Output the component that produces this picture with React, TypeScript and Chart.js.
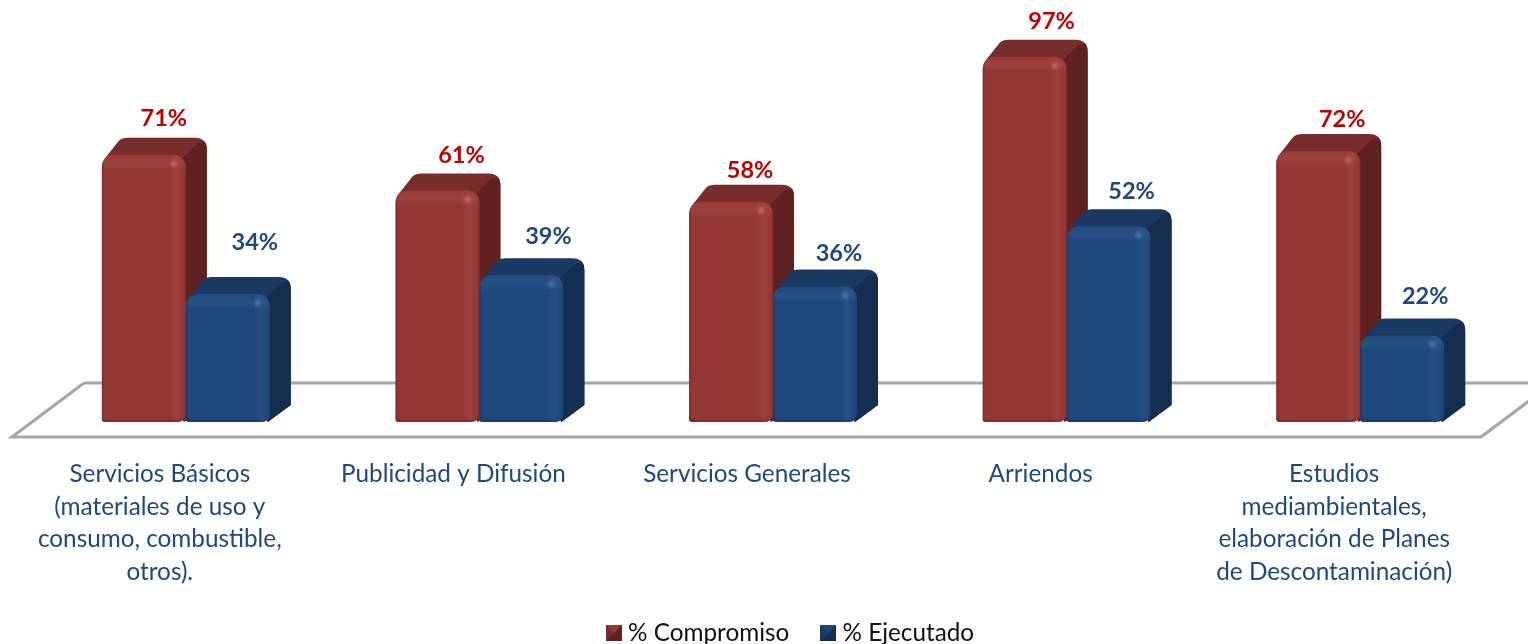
import React, { useEffect, useRef } from "react";
import { Chart, registerables } from "chart.js";

Chart.register(...registerables);

const categories = [
  ["Servicios Básicos", "(materiales de uso y", "consumo, combustible,", "otros)."],
  ["Publicidad y Difusión"],
  ["Servicios Generales"],
  ["Arriendos"],
  ["Estudios", "mediambientales,", "elaboración de Planes", "de Descontaminación)"],
];
const compromiso = [71, 61.5, 58.5, 97, 72];
const ejecutado = [34, 39, 36, 52, 23];
const compromisoLabels = ["71%", "61%", "58%", "97%", "72%"];
const ejecutadoLabels = ["34%", "39%", "36%", "52%", "22%"];
// hand-placed data label offsets (from the bar's centre / its rear top edge)
const labelDx = [[20, 24, 19, 27, 24], [27, 27, 24, 23, 23]];
const labelDy = [[19, 18, 14, 18, 15], [35, 22, 16, 18, 22]];

const DX = 21;
const DY = 17;
const FONT = "Lato, Carlito, sans-serif";
const palette = [
  { front: "#953735", top: "#772D2B", side: "#5F2220", light: "rgba(255,190,180,", edge: "rgba(90,20,20," },
  { front: "#1F497D", top: "#1A3A64", side: "#142E50", light: "rgba(140,190,240,", edge: "rgba(8,30,70," },
];

function makeSwatch(i: number) {
  const c = document.createElement("canvas");
  c.width = 16;
  c.height = 16;
  const g = c.getContext("2d")!;
  const p = palette[i];
  const tri = (pts: number[][], col: string) => {
    g.fillStyle = col;
    g.beginPath();
    pts.forEach(([x, y], k) => (k ? g.lineTo(x, y) : g.moveTo(x, y)));
    g.closePath();
    g.fill();
  };
  g.fillStyle = p.front;
  g.fillRect(0, 0, 16, 16);
  tri([[0, 0], [16, 0], [8, 8]], p.front);
  tri([[16, 0], [16, 16], [8, 8]], p.side);
  tri([[0, 0], [0, 16], [8, 8]], p.top);
  tri([[0, 16], [16, 16], [8, 8]], p.side);
  return c;
}

function silhouette(ctx: CanvasRenderingContext2D, L: number, R: number, T: number, B: number) {
  const r = 12;
  ctx.beginPath();
  ctx.moveTo(L + 2, T + 5);
  ctx.lineTo(L + DX - 4, T - DY + 3);
  ctx.quadraticCurveTo(L + DX - 1, T - DY, L + DX + 5, T - DY);
  ctx.lineTo(R + DX - r, T - DY);
  ctx.quadraticCurveTo(R + DX, T - DY, R + DX, T - DY + r);
  ctx.lineTo(R + DX, B - DY);
  ctx.lineTo(R - 2, B);
  ctx.closePath();
}

function drawDepth(ctx: CanvasRenderingContext2D, el: any, d: number) {
  const p = palette[d];
  const L = el.x - el.width / 2;
  const R = el.x + el.width / 2;
  const T = el.y;
  const B = el.base;
  ctx.save();
  silhouette(ctx, L, R, T, B);
  ctx.fillStyle = p.top;
  ctx.fill();
  ctx.clip();
  ctx.fillStyle = p.side;
  ctx.beginPath();
  ctx.moveTo(R - 6, T + 6);
  ctx.lineTo(R + DX - 10, T - DY + 6);
  ctx.lineTo(R + DX + 4, T - DY + 2);
  ctx.lineTo(R + DX + 4, B);
  ctx.lineTo(R - 6, B);
  ctx.closePath();
  ctx.fill();
  ctx.restore();
}

function drawSheen(ctx: CanvasRenderingContext2D, el: any, d: number) {
  const p = palette[d];
  const L = el.x - el.width / 2;
  const R = el.x + el.width / 2;
  const T = el.y;
  const B = el.base;
  const H = B - T;
  const W = R - L;
  ctx.save();
  ctx.beginPath();
  ctx.roundRect(L, T, W, H, [12, 12, 8, 3]);
  ctx.clip();
  let g = ctx.createLinearGradient(L, 0, R, 0);
  g.addColorStop(0, p.edge + "0.35)");
  g.addColorStop(3 / W, p.edge + "0)");
  g.addColorStop(0.8, p.light + "0)");
  g.addColorStop(0.89, p.light + "0.07)");
  g.addColorStop(0.97, p.light + "0)");
  g.addColorStop(0.975, p.edge + "0)");
  g.addColorStop(1, p.edge + "0.25)");
  ctx.fillStyle = g;
  ctx.fillRect(L, T, W, H);
  g = ctx.createLinearGradient(0, T, 0, B);
  g.addColorStop(0, p.light + "0.02)");
  g.addColorStop(9 / H, p.light + "0.07)");
  g.addColorStop(15 / H, p.light + "0)");
  g.addColorStop(1 - 5 / H, p.edge + "0)");
  g.addColorStop(1, p.edge + "0.35)");
  ctx.fillStyle = g;
  ctx.fillRect(L, T, W, H);
  g = ctx.createRadialGradient(R - 12, T + 9, 0, R - 12, T + 9, 5);
  g.addColorStop(0, p.light + "0.3)");
  g.addColorStop(1, p.light + "0)");
  ctx.fillStyle = g;
  ctx.fillRect(R - 20, T, 16, 18);
  ctx.restore();
}

const depthPlugin = {
  id: "depth",
  beforeDatasetDraw() {
    // datasets are painted below, left series first, so the right bar overlaps its neighbour's side
    return false;
  },
  beforeDatasetsDraw(chart: any) {
    const { ctx, scales } = chart;
    const y0 = scales.y.getPixelForValue(0);
    const back = y0 - 39;
    const front = y0 + 15;
    const xl = scales.x.left;
    const xr = scales.x.right;
    ctx.save();
    ctx.strokeStyle = "#A6A6A6";
    ctx.lineWidth = 3;
    ctx.beginPath();
    ctx.moveTo(xl + 45, back);
    ctx.lineTo(xr + 25, back);
    ctx.moveTo(xl + 45, back);
    ctx.lineTo(xl - 27, front);
    ctx.lineTo(xr - 26, front);
    ctx.lineTo(xr + 46, back);
    ctx.stroke();
    ctx.restore();
  },
  afterDatasetsDraw(chart: any) {
    const { ctx } = chart;
    [0, 1].forEach((d) => {
      const meta = chart.getDatasetMeta(d);
      meta.data.forEach((el: any) => drawDepth(ctx, el, d));
      meta.controller.draw();
      meta.data.forEach((el: any) => drawSheen(ctx, el, d));
    });
    ctx.save();
    ctx.font = `bold 23.5px ${FONT}`;
    ctx.textAlign = "center";
    ctx.textBaseline = "middle";
    const texts = [compromisoLabels, ejecutadoLabels];
    const colors = ["#C00000", "#1F497D"];
    [0, 1].forEach((d) => {
      chart.getDatasetMeta(d).data.forEach((el: any, i: number) => {
        ctx.fillStyle = colors[d];
        ctx.fillText(texts[d][i], el.x + labelDx[d][i], el.y - DY - labelDy[d][i]);
      });
    });
    ctx.restore();
  },
  afterLayout(chart: any) {
    // the tick labels overhang the fixed axis box, so let it reach the canvas bottom
    chart.scales.x.bottom = chart.height;
    const lg = chart.legend;
    if (lg) {
      lg.left += 20;
      lg.right += 20;
      const h = lg.bottom - lg.top;
      lg.top = 632 - 11 - 37;
      lg.bottom = lg.top + h;
    }
  },
};

export default function App() {
  const ref = useRef<HTMLCanvasElement>(null);
  useEffect(() => {
    const chart = new Chart(ref.current!, {
      type: "bar",
      plugins: [depthPlugin],
      data: {
        labels: categories,
        datasets: [
          { label: "% Compromiso", data: compromiso, backgroundColor: palette[0].front },
          { label: "% Ejecutado", data: ejecutado, backgroundColor: palette[1].front },
        ],
      },
      options: {
        animation: false,
        responsive: false,
        layout: { padding: { left: 39, right: 21, top: 0, bottom: 0 } },
        datasets: {
          bar: {
            barPercentage: 1,
            categoryPercentage: 0.572,
            borderSkipped: false,
            borderRadius: { topLeft: 12, topRight: 12, bottomLeft: 3, bottomRight: 8 },
          },
        },
        scales: {
          x: {
            grid: { display: false },
            border: { display: false },
            ticks: {
              autoSkip: false,
              maxRotation: 0,
              minRotation: 0,
              padding: 28,
              labelOffset: -26,
              color: "#1F497D",
              font: { family: FONT, size: 24.3, lineHeight: 32.5 / 24.3 },
            },
            afterFit(axis: any) {
              axis.height = Math.max(10, 222 - (axis.chart.legend ? axis.chart.legend.height : 0));
            },
          },
          y: { display: false, min: 0, max: 112.1, grid: { display: false } },
        },
        plugins: {
          tooltip: { enabled: false },
          legend: {
            position: "bottom",
            labels: {
              usePointStyle: true,
              pointStyleWidth: 4,
              color: "#111",
              padding: 37,
              boxWidth: 16,
              boxHeight: 16,
              font: { family: FONT, size: 24.3 },
              generateLabels(c: any) {
                return Chart.defaults.plugins.legend.labels
                  .generateLabels(c)
                  .map((it: any, i: number) => ({ ...it, pointStyle: makeSwatch(i) }));
              },
            },
          },
        },
      },
    } as any);
    return () => chart.destroy();
  }, []);
  return (
    <div style={{ position: "fixed", left: 0, top: 0, width: 1528, height: 644, background: "#fff" }}>
      <canvas ref={ref} width={1528} height={644} style={{ display: "block" }} />
    </div>
  );
}
